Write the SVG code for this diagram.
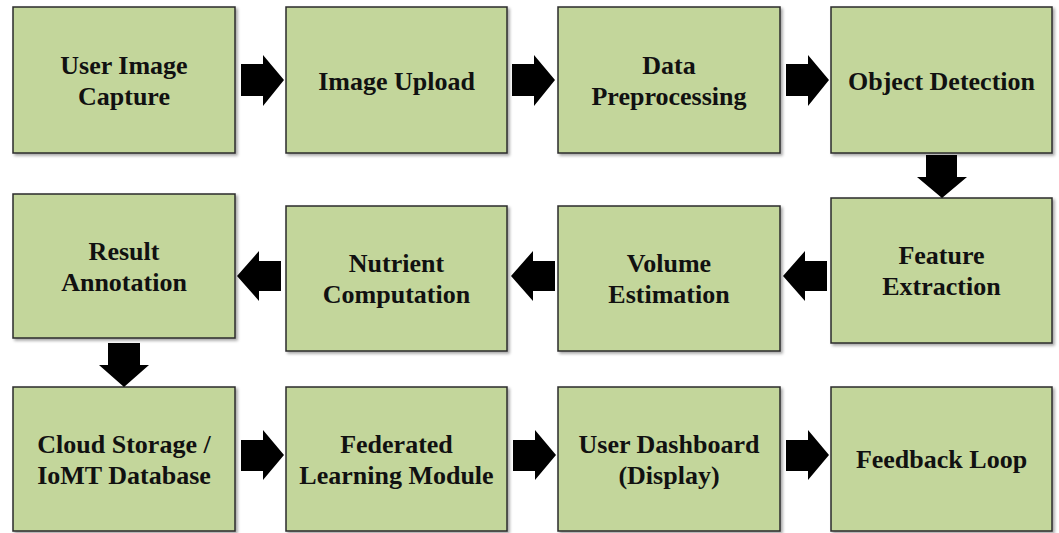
<svg xmlns="http://www.w3.org/2000/svg" width="1059" height="533" viewBox="0 0 1059 533">
<defs>
<filter id="sh" x="-5%" y="-5%" width="115%" height="115%">
<feDropShadow dx="2" dy="2" stdDeviation="1.5" flood-color="#000" flood-opacity="0.35"/>
</filter>
<style>
.box{fill:#c3d69b;stroke:#2b2b2b;stroke-width:1.5;filter:url(#sh)}
.t{font-family:"Liberation Serif","Times New Roman",serif;font-weight:bold;font-size:26px;fill:#111;text-anchor:middle}
.ar{fill:#000}
</style>
</defs>
<rect width="1059" height="533" fill="#fff"/>
<g id="n1"><rect class="box" x="13" y="7" width="222" height="146"/><text class="t" x="124" y="74">User Image</text><text class="t" x="124" y="105">Capture</text></g>
<g id="n2"><rect class="box" x="286" y="7" width="221" height="146"/><text class="t" x="396.5" y="90">Image Upload</text></g>
<g id="n3"><rect class="box" x="558" y="7" width="222" height="146"/><text class="t" x="669" y="74">Data</text><text class="t" x="669" y="105">Preprocessing</text></g>
<g id="n4"><rect class="box" x="831" y="7" width="221" height="146"/><text class="t" x="941.5" y="90">Object Detection</text></g>
<g id="n5"><rect class="box" x="831" y="198" width="221" height="145"/><text class="t" x="941.5" y="264">Feature</text><text class="t" x="941.5" y="295">Extraction</text></g>
<g id="n6"><rect class="box" x="558" y="206" width="222" height="145"/><text class="t" x="669" y="272">Volume</text><text class="t" x="669" y="303">Estimation</text></g>
<g id="n7"><rect class="box" x="286" y="206" width="221" height="145"/><text class="t" x="396.5" y="272">Nutrient</text><text class="t" x="396.5" y="303">Computation</text></g>
<g id="n8"><rect class="box" x="13" y="194" width="222" height="144"/><text class="t" x="124" y="260">Result</text><text class="t" x="124" y="291">Annotation</text></g>
<g id="n9"><rect class="box" x="13" y="387" width="222" height="144"/><text class="t" x="124" y="453">Cloud Storage /</text><text class="t" x="124" y="484">IoMT Database</text></g>
<g id="n10"><rect class="box" x="286" y="387" width="221" height="144"/><text class="t" x="396.5" y="453">Federated</text><text class="t" x="396.5" y="484">Learning Module</text></g>
<g id="n11"><rect class="box" x="558" y="387" width="222" height="144"/><text class="t" x="669" y="453">User Dashboard</text><text class="t" x="669" y="484">(Display)</text></g>
<g id="n12"><rect class="box" x="831" y="387" width="221" height="144"/><text class="t" x="941.5" y="468">Feedback Loop</text></g>
<g id="connectors">
<polygon class="ar" points="241,64 263,64 263,55 284,80 263,106 263,96 241,96"/>
<polygon class="ar" points="512,64 534,64 534,55 555,80 534,106 534,96 512,96"/>
<polygon class="ar" points="786,64 808,64 808,55 829,80 808,106 808,96 786,96"/>
<polygon class="ar" points="926,155 957,155 957,177 967,177 942,198 917,177 926,177"/>
<polygon class="ar" points="827,261 805,261 805,251 783,276 805,301 805,291 827,291"/>
<polygon class="ar" points="555,261 533,261 533,251 511,276 533,301 533,291 555,291"/>
<polygon class="ar" points="281,261 259,261 259,251 237,276 259,301 259,291 281,291"/>
<polygon class="ar" points="108,343 140,343 140,365 149,365 124,387 99,365 108,365"/>
<polygon class="ar" points="241,440 263,440 263,430 284,455 263,480 263,471 241,471"/>
<polygon class="ar" points="513,440 535,440 535,430 556,455 535,480 535,471 513,471"/>
<polygon class="ar" points="786,440 808,440 808,430 829,455 808,480 808,471 786,471"/>
</g>
</svg>
